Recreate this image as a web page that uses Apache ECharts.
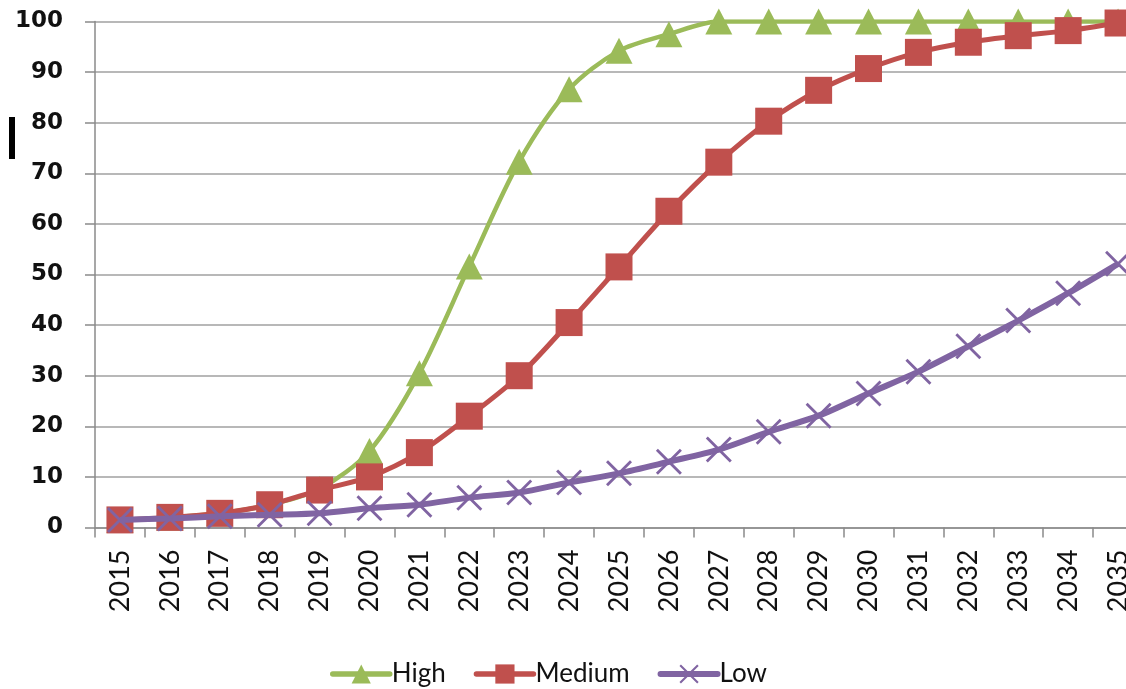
<!DOCTYPE html>
<html>
<head>
<meta charset="utf-8">
<script src="https://cdn.jsdelivr.net/npm/echarts@6/dist/echarts.min.js"></script>
<style>
html,body{margin:0;padding:0;background:#fff;}
#chart{width:1126px;height:689px;}
</style>
</head>
<body>
<div id="chart"></div>
<script>
const years = ['2015','2016','2017','2018','2019','2020','2021','2022','2023','2024','2025','2026','2027','2028','2029','2030','2031','2032','2033','2034','2035'];
const yTicks = [0,10,20,30,40,50,60,70,80,90,100];
const seriesNames = ['High','Medium','Low'];
const highValues = [1.5,2.0,2.8,4.5,7.6,15.1,30.5,51.6,72.3,86.6,94.2,97.5,100,100,100,100,100,100,100,100,100];
const mediumValues = [1.5,2.0,2.8,4.5,7.4,10.0,14.8,22.0,30.0,40.5,51.5,62.5,72.2,80.3,86.4,90.7,93.9,95.9,97.2,98.2,99.7];
const lowValues = [1.5,1.8,2.2,2.5,2.8,3.8,4.5,5.9,6.9,8.9,10.7,13.0,15.4,18.9,22.1,26.5,30.8,35.8,40.9,46.3,52.1];

const colors = ['#9BBB59','#C0504D','#8064A2'];
const xSymbol = 'path://M0,2L2,0L26,24L24,26Z M24,0L26,2L2,26L0,24Z';

const chart = echarts.init(document.getElementById('chart'), null, {renderer:'canvas'});
chart.setOption({
  animation:false,
  backgroundColor:'#ffffff',
  grid:{left:95, width:1048, top:21.5, bottom:161.5, containLabel:false, outerBoundsMode:'none'},
  legend:{
    left:325, top:656,
    itemWidth:57, itemHeight:24, itemGap:28,
    textStyle:{fontFamily:'Lato', fontSize:26, color:'#111', padding:[0,0,0,-3]},
    data:[
      {name:seriesNames[0], lineStyle:{width:5.5, cap:'round'}},
      {name:seriesNames[1], lineStyle:{width:5.5, cap:'round'}},
      {name:seriesNames[2], lineStyle:{width:6, cap:'round'}}
    ]
  },
  xAxis:{
    type:'category',
    data:years,
    boundaryGap:true,
    axisLine:{lineStyle:{color:'#8a8a8a', width:1.5}},
    axisTick:{show:true, length:10, alignWithLabel:false, lineStyle:{color:'#8a8a8a', width:1.5}},
    axisLabel:{rotate:90, margin:22, fontFamily:'Lato', fontSize:27, color:'#111', interval:0},
    splitLine:{show:false}
  },
  yAxis:{
    type:'value',
    min:yTicks[0], max:yTicks[yTicks.length-1], interval:10,
    axisLine:{show:true, lineStyle:{color:'#8a8a8a', width:1.5}},
    axisTick:{show:true, length:10, lineStyle:{color:'#8a8a8a', width:1.5}},
    axisLabel:{margin:32, fontFamily:'DejaVu Sans', fontWeight:'bold', fontSize:23, color:'#111'},
    splitLine:{show:true, lineStyle:{color:'#a0a0a0', width:1.5}}
  },
  series:[
    {name:seriesNames[0], type:'line', data:highValues, smooth:0.3,
     symbol:'triangle', symbolSize:[27,26],
     lineStyle:{color:colors[0], width:4.5}, itemStyle:{color:colors[0]}, z:2},
    {name:seriesNames[1], type:'line', data:mediumValues, smooth:0.3,
     symbol:'rect', symbolSize:27,
     lineStyle:{color:colors[1], width:5}, itemStyle:{color:colors[1]}, z:3},
    {name:seriesNames[2], type:'line', data:lowValues, smooth:0.3,
     symbol:xSymbol, symbolSize:26,
     lineStyle:{color:colors[2], width:6}, itemStyle:{color:colors[2]}, z:4}
  ],
  graphic:[
    {type:'rect', left:9, top:117, shape:{width:6, height:42}, style:{fill:'#000'}}
  ]
});
</script>
</body>
</html>
